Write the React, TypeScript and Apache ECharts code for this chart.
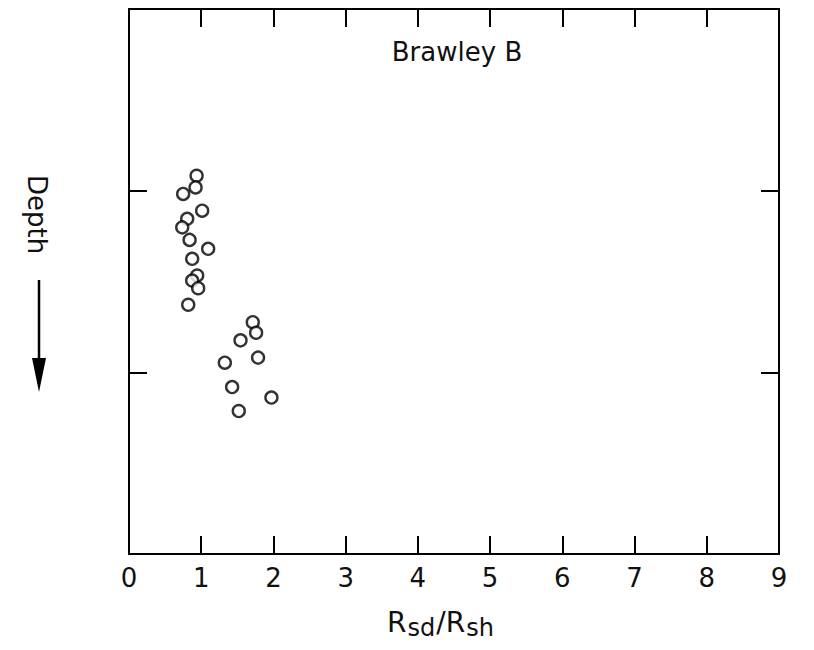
import React, { useEffect, useRef } from "react";
import * as echarts from "echarts";

const xTickLabels = ["0", "1", "2", "3", "4", "5", "6", "7", "8", "9"];
const ratioValues = [
  0.936, 0.922, 0.75, 1.013, 0.806, 0.737, 0.839, 1.096, 0.875, 0.944, 0.875, 0.958, 0.82,
  1.714, 1.76, 1.544, 1.787, 1.327, 1.428, 1.972, 1.52,
];
const depthValues = [
  0.918, 0.982, 1.018, 1.11, 1.155, 1.202, 1.271, 1.32, 1.375, 1.467, 1.495, 1.537, 1.628,
  1.724, 1.782, 1.824, 1.919, 1.947, 2.081, 2.139, 2.213,
];
const titleText = "Brawley B";
const yAxisTitle = "Depth";

export default function App() {
  const ref = useRef<HTMLDivElement>(null);
  useEffect(() => {
    document.body.style.margin = "0";
    const chart = echarts.init(ref.current!, null, { renderer: "svg" });
    const data = ratioValues.map((x, i) => [x, depthValues[i]]);
    const font = "DejaVu Sans";
    const ink = "#111";
    const line = { show: true, onZero: false, lineStyle: { color: "#000", width: 2 } };
    const tick = { show: true, inside: true, length: 18, lineStyle: { color: "#000", width: 2 } };
    chart.setOption({
      animation: false,
      backgroundColor: "#fff",
      title: {
        text: titleText,
        left: 452,
        top: 34,
        textAlign: "center",
        textStyle: { fontFamily: font, fontSize: 26, fontWeight: "normal", color: ink },
      },
      grid: {
        left: 129,
        right: 35,
        top: 9,
        bottom: 96,
        show: true,
        borderColor: "#000",
        borderWidth: 2,
        backgroundColor: "transparent",
      },
      xAxis: [
        {
          type: "value",
          min: 0,
          max: 9,
          interval: 1,
          position: "bottom",
          axisLine: line,
          axisTick: tick,
          splitLine: { show: false },
          axisLabel: {
            margin: 11,
            fontFamily: font,
            fontSize: 26,
            color: ink,
            formatter: (v: number) => xTickLabels[Math.round(v)] ?? "",
          },
          name: "R{sub|sd}/R{sub|sh}",
          nameLocation: "middle",
          nameGap: 51,
          nameTextStyle: {
            fontFamily: font,
            fontSize: 28,
            color: ink,
            padding: [0, 26, 0, 0],
            rich: {
              sub: { fontFamily: font, fontSize: 24, color: ink, verticalAlign: "bottom", padding: [11, 1, 0, 1] },
            },
          },
        },
        {
          type: "value",
          min: 0,
          max: 9,
          interval: 1,
          position: "top",
          axisLine: line,
          axisTick: tick,
          splitLine: { show: false },
          axisLabel: { show: false },
        },
      ],
      yAxis: [
        {
          type: "value",
          min: 0,
          max: 3,
          interval: 1,
          inverse: true,
          position: "left",
          axisLine: line,
          axisTick: tick,
          splitLine: { show: false },
          axisLabel: { show: false },
        },
        {
          type: "value",
          min: 0,
          max: 3,
          interval: 1,
          inverse: true,
          position: "right",
          axisLine: line,
          axisTick: tick,
          splitLine: { show: false },
          axisLabel: { show: false },
        },
      ],
      graphic: [
        {
          type: "text",
          x: 37,
          y: 175,
          rotation: -Math.PI / 2,
          style: { text: yAxisTitle, fontFamily: font, fontSize: 26, fill: ink, textAlign: "left", textVerticalAlign: "middle" },
        },
        {
          type: "line",
          shape: { x1: 39, y1: 280, x2: 39, y2: 370 },
          style: { stroke: "#000", lineWidth: 2.5 },
        },
        {
          type: "polygon",
          shape: { points: [[32, 358], [46, 358], [39, 392]] },
          style: { fill: "#000" },
        },
      ],
      series: [
        {
          type: "scatter",
          xAxisIndex: 0,
          yAxisIndex: 0,
          data,
          symbol: "circle",
          symbolSize: 12,
          itemStyle: { color: "#fff", borderColor: "#000", borderWidth: 2.4 },
        },
      ],
    });
    return () => chart.dispose();
  }, []);
  return <div ref={ref} style={{ width: 814, height: 650 }} />;
}
